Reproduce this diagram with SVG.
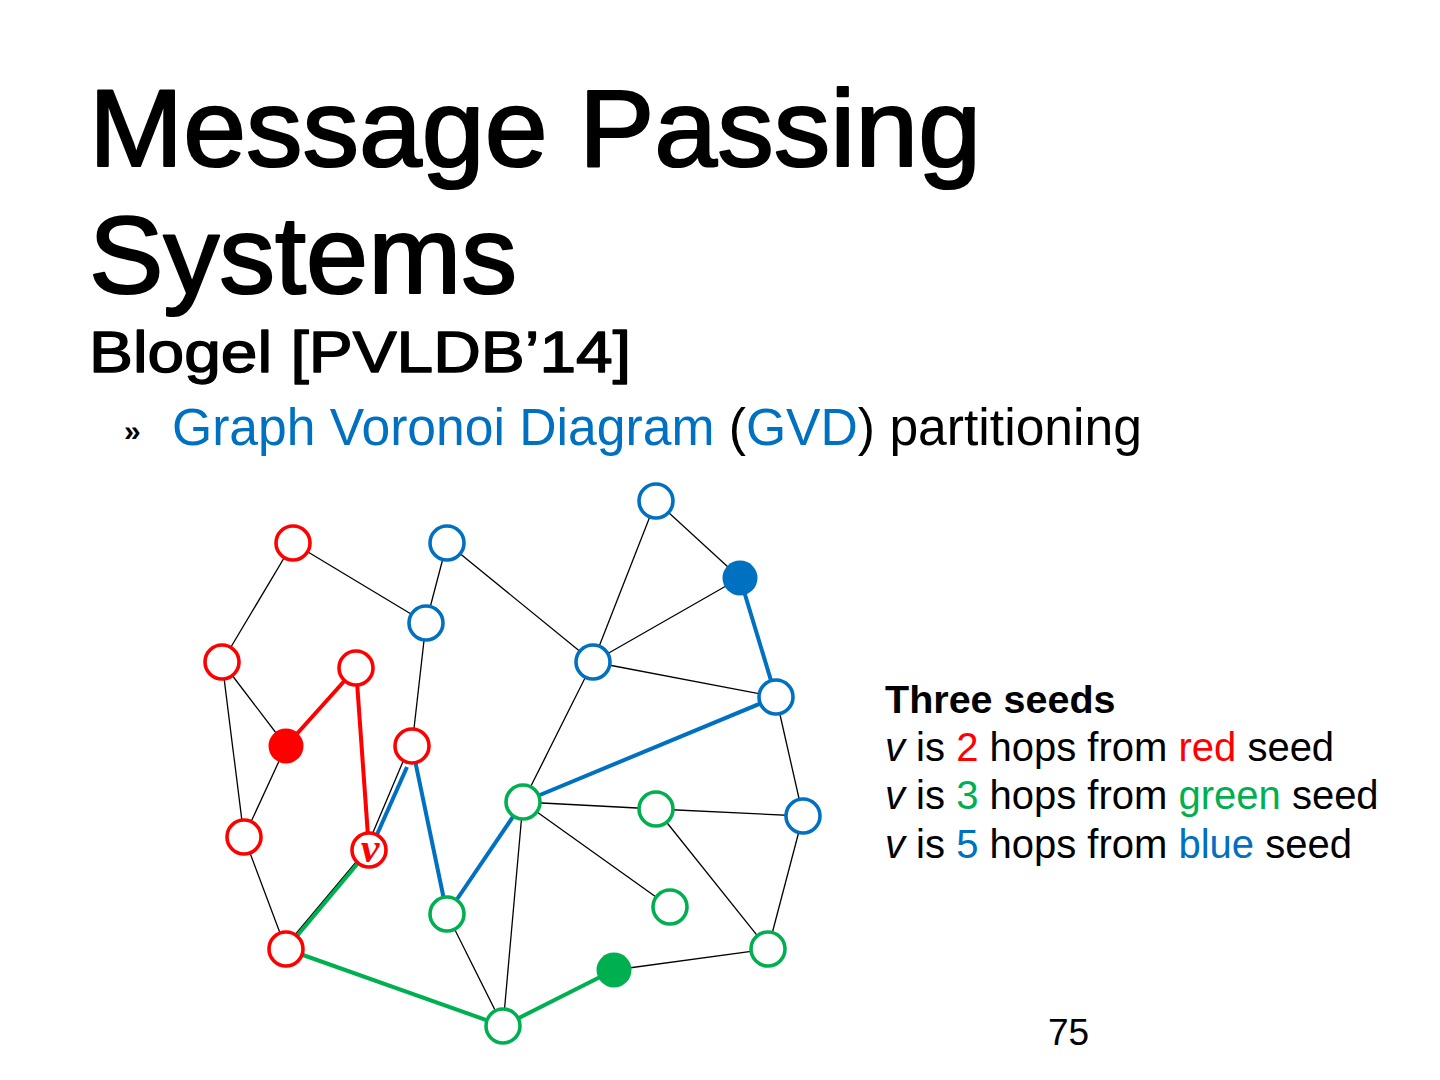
<svg xmlns="http://www.w3.org/2000/svg" width="1440" height="1080" viewBox="0 0 1440 1080">
<style>
.t{font-family:"Liberation Sans",Arial,sans-serif;fill:#000}
.h{stroke:#000;stroke-linejoin:round}
.e{stroke:#000;stroke-width:1.3;fill:none}
.er{stroke:#FF0000;stroke-width:4;fill:none}
.eg{stroke:#00B050;stroke-width:4;fill:none}
.eb{stroke:#0070C0;stroke-width:4;fill:none}
.nr{fill:#fff;stroke:#FF0000;stroke-width:3.6}
.ng{fill:#fff;stroke:#00B050;stroke-width:3.6}
.nb{fill:#fff;stroke:#0070C0;stroke-width:3.6}
.r{fill:#FF0000}.g{fill:#00B050}.b{fill:#0070C0}
</style>
<rect width="1440" height="1080" fill="#fff"/>
<text class="t h" x="89" y="166" font-size="110" stroke-width="2.2" textLength="892" lengthAdjust="spacingAndGlyphs">Message Passing</text>
<text class="t h" x="89" y="293" font-size="110" stroke-width="2.2" textLength="428" lengthAdjust="spacingAndGlyphs">Systems</text>
<text class="t h" x="89" y="372" font-size="58" stroke-width="1.4" textLength="542" lengthAdjust="spacingAndGlyphs">Blogel [PVLDB’14]</text>
<text class="t" x="124" y="441" font-size="30" font-weight="bold">»</text>
<text class="t" x="172" y="445" font-size="51" textLength="970" lengthAdjust="spacingAndGlyphs"><tspan class="b">Graph Voronoi Diagram</tspan> (<tspan class="b">GVD</tspan>) partitioning</text>

<g id="connectors">
<line class="e" x1="293" y1="543" x2="222" y2="662"/>
<line class="e" x1="293" y1="543" x2="426" y2="623"/>
<line class="e" x1="447" y1="543" x2="426" y2="623"/>
<line class="e" x1="447" y1="543" x2="593" y2="662"/>
<line class="e" x1="426" y1="623" x2="412" y2="746"/>
<line class="e" x1="222" y1="662" x2="286" y2="746"/>
<line class="e" x1="222" y1="662" x2="244" y2="837"/>
<line class="e" x1="286" y1="746" x2="244" y2="837"/>
<line class="e" x1="244" y1="837" x2="286" y2="949"/>
<line class="e" x1="656" y1="501" x2="740" y2="578"/>
<line class="e" x1="656" y1="501" x2="593" y2="662"/>
<line class="e" x1="593" y1="662" x2="740" y2="578"/>
<line class="e" x1="593" y1="662" x2="776" y2="697"/>
<line class="e" x1="593" y1="662" x2="523" y2="802"/>
<line class="e" x1="776" y1="697" x2="803" y2="816"/>
<line class="e" x1="523" y1="802" x2="656" y2="809"/>
<line class="e" x1="656" y1="809" x2="803" y2="816"/>
<line class="e" x1="523" y1="802" x2="670" y2="907"/>
<line class="e" x1="656" y1="809" x2="768" y2="949"/>
<line class="e" x1="803" y1="816" x2="768" y2="949"/>
<line class="e" x1="614" y1="970" x2="768" y2="949"/>
<line class="e" x1="523" y1="802" x2="503" y2="1026"/>
<line class="e" x1="447" y1="914" x2="503" y2="1026"/>
<line class="e" x1="410" y1="745" x2="366" y2="849"/>
<line class="e" x1="367" y1="849" x2="284" y2="948"/>
<line class="er" x1="286" y1="746" x2="356" y2="668"/>
<line class="er" x1="356" y1="668" x2="369" y2="850"/>
<line class="eg" x1="614" y1="970" x2="503" y2="1026"/>
<line class="eg" x1="503" y1="1026" x2="286" y2="949"/>
<line class="eg" x1="286" y1="949" x2="369" y2="850"/>
<line class="eb" x1="740" y1="578" x2="776" y2="697"/>
<line class="eb" x1="776" y1="697" x2="523" y2="802"/>
<line class="eb" x1="523" y1="802" x2="447" y2="914"/>
<line class="eb" x1="447" y1="914" x2="412" y2="746"/>
<line class="eb" x1="407" y1="767" x2="371" y2="848"/>
</g>

<g id="n1"><circle class="nr" cx="293" cy="543" r="17"/></g>
<g id="n2"><circle class="nb" cx="447" cy="543" r="17"/></g>
<g id="n3"><circle class="nb" cx="426" cy="623" r="17"/></g>
<g id="n4"><circle class="nr" cx="222" cy="662" r="17"/></g>
<g id="n5"><circle class="nr" cx="356" cy="668" r="17"/></g>
<g id="n6"><circle class="r" cx="286" cy="746" r="17.5"/></g>
<g id="n7"><circle class="nr" cx="412" cy="746" r="17"/></g>
<g id="n8"><circle class="nr" cx="244" cy="837" r="17"/></g>
<g id="n9"><circle class="nr" cx="369" cy="850" r="17"/><text x="370" y="862" text-anchor="middle" font-family="Liberation Serif,serif" font-style="italic" font-weight="bold" font-size="42" fill="#FF0000">v</text></g>
<g id="n10"><circle class="nr" cx="286" cy="949" r="17"/></g>
<g id="n11"><circle class="ng" cx="447" cy="914" r="17"/></g>
<g id="n12"><circle class="ng" cx="523" cy="802" r="17"/></g>
<g id="n13"><circle class="ng" cx="503" cy="1026" r="17"/></g>
<g id="n14"><circle class="nb" cx="656" cy="501" r="17"/></g>
<g id="n15"><circle class="b" cx="740" cy="578" r="17.5"/></g>
<g id="n16"><circle class="nb" cx="593" cy="662" r="17"/></g>
<g id="n17"><circle class="nb" cx="776" cy="697" r="17"/></g>
<g id="n18"><circle class="ng" cx="656" cy="809" r="17"/></g>
<g id="n19"><circle class="nb" cx="803" cy="816" r="17"/></g>
<g id="n20"><circle class="ng" cx="670" cy="907" r="17"/></g>
<g id="n21"><circle class="ng" cx="768" cy="949" r="17"/></g>
<g id="n22"><circle class="g" cx="614" cy="970" r="17.5"/></g>

<g id="legend" class="t" font-size="40">
<text x="885" y="713" font-weight="bold" font-size="39.5">Three seeds</text>
<text x="885" y="761"><tspan font-style="italic">v</tspan> is <tspan class="r">2</tspan> hops from <tspan class="r">red</tspan> seed</text>
<text x="885" y="809"><tspan font-style="italic">v</tspan> is <tspan class="g">3</tspan> hops from <tspan class="g">green</tspan> seed</text>
<text x="885" y="858"><tspan font-style="italic">v</tspan> is <tspan class="b">5</tspan> hops from <tspan class="b">blue</tspan> seed</text>
</g>
<text class="t" x="1048" y="1045" font-size="37">75</text>
</svg>
